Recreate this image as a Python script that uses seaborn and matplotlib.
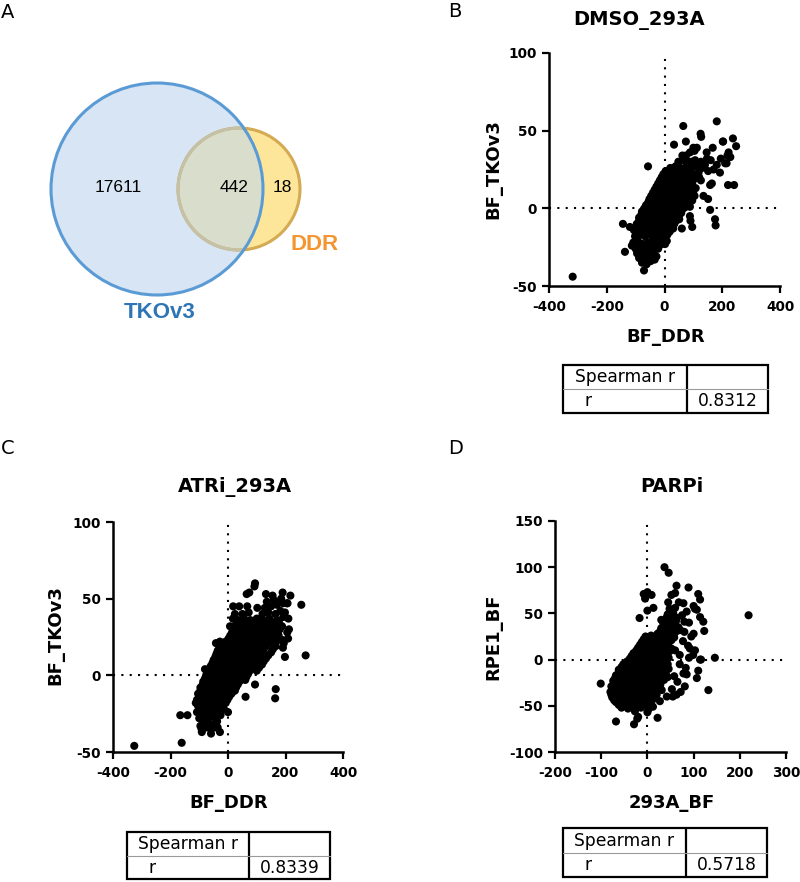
import numpy as np
import pandas as pd
import matplotlib
matplotlib.use("Agg")
import matplotlib.pyplot as plt
from matplotlib.patches import Circle, Rectangle
import seaborn as sns

# ---- Venn counts (panel A)
venn_sets = ['TKOv3', 'DDR']
venn_counts = [17611, 442, 18]   # TKOv3 only, shared, DDR only

# ---- Spearman r per panel
spearman_r = {'B': 0.8312, 'C': 0.8339, 'D': 0.5718}

# ---- panel B: DMSO_293A  (BF_DDR, BF_TKOv3)
dmso_pts = [
    (-318, -44), (-71, -40), (-57, 27), (65, 53), (181, 56), (125, 48), (127, 46), (237, 45),
    (203, 43), (248, 40), (33, 41), (74, 43), (104, 37), (112, 39), (167, 39), (146, 36),
    (222, 36), (228, 33), (218, 34), (74, 34), (88, 36), (62, 34), (215, 29), (181, 28),
    (192, 23), (151, 24), (220, 15), (241, 15), (158, 15), (151, 6), (158, -1), (175, -7),
    (177, -11), (96, -12), (88, -5), (90, -8), (51, -7), (-144, -10), (-120, -12), (-137, -28),
    (-113, -24), (-61, -33), (8, -21), (2, -23), (-38, 9), (-9, 17), (72, 33), (100, 39),
    (147, 32), (164, 16), (118, 23), (77, 25), (135, 8), (100, 12), (54, 5), (31, -3),
    (210, 29), (202, 43), (120, 20), (140, 28), (170, 25), (195, 32), (95, 30), (60, -13),
    (-78, -35), (-62, -36), (-48, -34), (-66, -31),
    (-95, -29), (-82, -30), (-70, -28), (-55, -30), (-40, -29), (-28, -31),
    (-100, -26), (-86, -25), (-62, -26), (-48, -25), (-22, -26), (-35, -27),
    (-108, -22), (-92, -21), (-75, -23), (-58, -22), (-42, -21), (-26, -22), (-10, -23), (-16, -19),
    (-102, -18), (-85, -17), (-68, -18), (-52, -17), (-36, -18), (-20, -17), (-4, -18), (10, -17),
    (-106, -14), (-90, -13), (-72, -14), (-56, -14), (-40, -13), (-24, -14), (-8, -13), (8, -14), (24, -12),
    (-96, -10), (-80, -9), (-64, -10), (-48, -10), (-32, -9), (-16, -10), (0, -10), (16, -9), (34, -10),
    (-88, -6), (-70, -6), (-54, -5), (-38, -6), (-22, -5), (-6, -6), (10, -5), (26, -6), (42, -4),
    (-78, -2), (-62, -1), (-46, -2), (-30, -1), (-14, -2), (2, -1), (18, -2), (34, -1), (50, -2), (66, 0),
    (-64, 2), (-48, 3), (-32, 2), (-16, 3), (0, 2), (16, 3), (32, 2), (48, 3), (64, 2), (80, 3),
    (-52, 6), (-36, 7), (-20, 6), (-4, 7), (12, 6), (28, 7), (44, 6), (60, 7), (78, 6), (96, 5),
    (-40, 10), (-24, 11), (-8, 10), (8, 11), (24, 10), (40, 11), (56, 10), (74, 11), (92, 10),
    (-28, 14), (-12, 15), (4, 14), (20, 15), (36, 14), (52, 15), (70, 14), (88, 15), (108, 13),
    (-16, 18), (0, 19), (16, 18), (32, 19), (48, 18), (66, 19), (84, 18), (104, 19), (126, 18),
    (-4, 22), (14, 23), (30, 22), (46, 23), (64, 22), (82, 23), (100, 22),
    (20, 26), (38, 27), (56, 26), (76, 27), (94, 26), (112, 27), (130, 26),
    (48, 30), (66, 31), (86, 30), (106, 31), (126, 30), (160, 31),
    (-88, -32), (-74, -33), (-58, -33), (-44, -32), (-34, -33),
    (-100, -24), (-84, -23), (-67, -24), (-50, -24), (-34, -24), (-18, -24), (-2, -21),
    (-96, -16), (-78, -15), (-62, -16), (-46, -15), (-30, -16), (-14, -16), (2, -15), (18, -15),
    (-98, -12), (-82, -11), (-64, -12), (-48, -12), (-32, -11), (-16, -12), (0, -12), (16, -12), (30, -13),
    (-88, -8), (-72, -8), (-56, -8), (-40, -8), (-24, -7), (-8, -8), (8, -7), (24, -8), (40, -8),
    (-80, -4), (-62, -4), (-46, -4), (-30, -3), (-14, -4), (2, -4), (18, -3), (34, -4), (50, -5), (58, -3),
    (-70, 0), (-54, 1), (-38, 0), (-22, 1), (-6, 0), (10, 1), (26, 0), (42, 1), (58, 1), (74, 1), (88, 1),
    (-56, 4), (-40, 5), (-24, 4), (-8, 5), (8, 4), (24, 5), (40, 4), (56, 5), (72, 4), (88, 4),
    (-46, 8), (-30, 9), (-14, 8), (2, 9), (18, 8), (34, 9), (50, 8), (68, 9), (86, 8), (104, 8),
    (-34, 12), (-18, 13), (-2, 12), (14, 13), (30, 12), (46, 13), (62, 12), (80, 12), (100, 11),
    (-22, 16), (-6, 17), (10, 16), (26, 17), (42, 16), (58, 17), (76, 16), (96, 16),
    (-10, 20), (6, 21), (22, 20), (38, 21), (56, 20), (74, 21), (92, 20),
    (4, 24), (22, 25), (40, 24), (58, 25), (76, 24),
]

# ---- panel C: ATRi_293A  (BF_DDR, BF_TKOv3)
atri_pts = [
    (-326, -46), (-161, -44), (-166, -26), (-141, -26), (255, 46), (270, 13), (166, -9), (164, -15),
    (61, -14), (94, -6), (-28, -37), (-59, -38), (-91, -37), (94, 60), (92, 58), (65, 53),
    (74, 54), (132, 53), (155, 52), (190, 54), (217, 52), (18, 45), (39, 45), (67, 45),
    (102, 44), (207, 47), (198, 41), (210, 37), (190, 23), (194, 21), (198, 12), (206, 28),
    (24, 40), (0, -24), (-80, 4), (-42, 21), (-28, 22), (7, 32), (17, 37), (191, 47), (205, 47),
    (212, 30), (209, 24), (191, 18),
    (-92, -35), (-76, -34), (-60, -35), (-44, -34), (-84, -31), (-68, -31), (-52, -32), (-38, -30),
    (-100, -28), (-86, -27), (-70, -28), (-54, -27), (-40, -28), (-26, -26),
    (-108, -24), (-92, -23), (-76, -24), (-60, -23), (-44, -24), (-28, -23), (-14, -22),
    (-104, -20), (-88, -19), (-72, -20), (-56, -19), (-40, -20), (-24, -19), (-8, -18),
    (-108, -16), (-92, -15), (-76, -16), (-60, -15), (-44, -16), (-28, -15), (-12, -15), (4, -14),
    (-104, -12), (-88, -11), (-72, -12), (-56, -11), (-40, -12), (-24, -11), (-8, -12), (8, -11), (24, -10),
    (-96, -8), (-80, -7), (-64, -8), (-48, -7), (-32, -8), (-16, -7), (0, -8), (16, -7), (34, -6),
    (-86, -4), (-70, -3), (-54, -4), (-38, -3), (-22, -4), (-6, -3), (10, -4), (26, -3), (44, -2), (60, -3),
    (-76, 0), (-60, 1), (-44, 0), (-28, 1), (-12, 0), (4, 1), (20, 0), (36, 1), (52, 0), (70, 1),
    (-66, 4), (-50, 5), (-34, 4), (-18, 5), (-2, 4), (14, 5), (30, 4), (46, 5), (62, 4), (80, 5), (100, 3),
    (-54, 8), (-38, 9), (-22, 8), (-6, 9), (10, 8), (26, 9), (42, 8), (58, 9), (76, 8), (96, 9), (118, 7),
    (-44, 12), (-28, 13), (-12, 12), (4, 13), (20, 12), (36, 13), (52, 12), (70, 13), (90, 12), (112, 13), (132, 11),
    (-36, 16), (-20, 17), (-4, 16), (12, 17), (28, 16), (44, 17), (62, 16), (80, 17), (100, 16), (124, 17), (150, 15),
    (-26, 20), (-10, 21), (6, 20), (22, 21), (40, 20), (58, 21), (76, 20), (96, 21), (118, 20), (142, 21), (166, 19),
    (2, 24), (18, 25), (36, 24), (54, 25), (72, 24), (92, 25), (112, 24), (134, 25), (156, 24), (176, 26),
    (14, 28), (30, 29), (48, 28), (66, 29), (86, 28), (106, 29), (128, 28), (150, 29), (172, 28),
    (24, 32), (42, 33), (62, 32), (82, 33), (102, 32), (124, 33), (146, 32), (168, 33), (188, 32),
    (36, 36), (56, 37), (78, 36), (100, 37), (122, 36), (144, 37), (170, 36), (192, 38),
    (50, 40), (72, 41), (120, 40), (140, 41), (165, 40), (182, 42),
    (128, 44), (150, 45), (170, 46), (135, 48), (160, 49), (185, 50),
    (-96, -33), (-80, -33), (-64, -33), (-48, -33), (-36, -34),
    (-94, -26), (-78, -26), (-62, -25), (-46, -26), (-32, -25),
    (-100, -22), (-84, -21), (-68, -22), (-52, -21), (-36, -22), (-20, -21),
    (-112, -18), (-96, -17), (-80, -18), (-64, -17), (-48, -18), (-32, -17), (-16, -17), (-2, -16),
    (-100, -14), (-84, -13), (-68, -14), (-52, -13), (-36, -14), (-20, -13), (-4, -13), (12, -12),
    (-96, -10), (-80, -9), (-64, -10), (-48, -9), (-32, -10), (-16, -9), (0, -10), (16, -9), (28, -8),
    (-88, -6), (-72, -5), (-56, -6), (-40, -5), (-24, -6), (-8, -5), (8, -6), (24, -5), (40, -4),
    (-80, -2), (-64, -1), (-48, -2), (-32, -1), (-16, -2), (0, -1), (16, -2), (32, -1), (48, -1), (64, -1),
    (-70, 2), (-54, 3), (-38, 2), (-22, 3), (-6, 2), (10, 3), (26, 2), (42, 3), (58, 2), (76, 3),
    (-60, 6), (-44, 7), (-28, 6), (-12, 7), (4, 6), (20, 7), (36, 6), (52, 7), (70, 6), (88, 7), (108, 5),
    (-50, 10), (-34, 11), (-18, 10), (-2, 11), (14, 10), (30, 11), (46, 10), (64, 11), (84, 10), (104, 11), (124, 9),
    (-40, 14), (-24, 15), (-8, 14), (8, 15), (24, 14), (40, 15), (56, 14), (74, 15), (94, 14), (116, 15), (140, 13),
    (-30, 18), (-14, 19), (2, 18), (18, 19), (34, 18), (52, 19), (70, 18), (88, 19), (108, 18), (132, 19), (156, 17),
    (-8, 22), (10, 23), (28, 22), (46, 23), (64, 22), (84, 23), (104, 22), (124, 23), (146, 22), (168, 22),
    (8, 26), (24, 27), (42, 26), (60, 27), (78, 26), (98, 27), (120, 26), (142, 27), (164, 26),
    (20, 30), (38, 31), (56, 30), (76, 31), (96, 30), (116, 31), (138, 30), (160, 31), (180, 30),
    (30, 34), (50, 35), (70, 34), (90, 35), (112, 34), (134, 35), (156, 34), (178, 34),
]

# ---- panel D: PARPi  (293A_BF, RPE1_BF)
parpi_pts = [
    (-101, -26), (-68, -67), (-29, -70), (-22, -64), (22, -63), (0, -57), (2, -54), (219, 48),
    (146, 2), (132, -33), (110, -12), (37, 100), (46, 94), (-5, 66), (-8, 71), (0, 73),
    (9, 70), (-17, 45), (0, 53), (13, 56), (63, 80), (89, 78), (110, 71), (114, 65),
    (78, 61), (85, 52), (100, 58), (114, 46), (121, 41), (123, 31), (100, 28), (80, 41),
    (71, 32), (92, 12), (103, 10), (114, 0), (116, 0), (83, -9), (78, -15), (81, -29),
    (63, -38), (53, -32), (27, -45), (12, -51), (60, 72), (45, 62), (103, 55), (107, 54),
    (30, 43), (38, 35), (67, 35), (77, 20), (35, 29), (107, -20), (85, -16), (99, 5),
    (90, 2), (65, -24), (31, -33), (42, -40), (-52, -49), (-27, -56), (6, -47), (-20, -62),
    (70, -5), (60, 10), (88, 15), (95, 25), (72, -35), (55, -40), (58, -18), (70, 5),
    (80, 30), (90, 40), (58, 45), (75, 48), (68, 62), (52, 70),
    (-56, -52), (-42, -53), (-30, -51), (-14, -52),
    (-68, -46), (-56, -47), (-44, -46), (-32, -48), (-20, -46), (-8, -47), (6, -45),
    (-76, -41), (-64, -40), (-52, -42), (-40, -40), (-28, -41), (-16, -40), (-4, -41), (10, -40),
    (-80, -35), (-68, -34), (-56, -36), (-44, -34), (-32, -35), (-20, -34), (-8, -35), (4, -34), (16, -36),
    (-78, -29), (-66, -28), (-54, -30), (-42, -28), (-30, -29), (-18, -28), (-6, -29), (6, -28), (20, -30),
    (-74, -23), (-62, -22), (-50, -24), (-38, -22), (-26, -23), (-14, -22), (-2, -23), (10, -22), (24, -24), (36, -22),
    (-68, -17), (-56, -16), (-44, -18), (-32, -16), (-20, -17), (-8, -16), (4, -17), (16, -16), (28, -18), (40, -16),
    (-62, -11), (-50, -10), (-38, -12), (-26, -10), (-14, -11), (-2, -10), (10, -11), (22, -10), (34, -12), (46, -10),
    (-52, -5), (-40, -4), (-28, -6), (-16, -4), (-4, -5), (8, -4), (20, -6), (32, -4), (44, -5),
    (-38, 1), (-26, 2), (-14, 0), (-2, 2), (10, 1), (22, 2), (34, 0), (46, 2),
    (-30, 7), (-18, 8), (-6, 6), (6, 8), (18, 7), (30, 8), (42, 6),
    (-20, 13), (-8, 14), (4, 12), (16, 14), (28, 13), (40, 14), (52, 12),
    (-12, 19), (0, 20), (12, 18), (24, 20), (36, 19), (48, 20),
    (-4, 25), (8, 26), (20, 24), (34, 26), (46, 25), (58, 24),
    (28, 31), (40, 32), (52, 30), (64, 31),
    (36, 37), (48, 38), (60, 36), (40, 43), (52, 44), (62, 42),
    (44, 49), (56, 50), (48, 55), (60, 56),
    (-62, -49), (-50, -50), (-38, -49), (-26, -50), (-14, -49), (-2, -49),
    (-72, -44), (-60, -43), (-48, -44), (-36, -43), (-24, -44), (-12, -43), (0, -44), (12, -43),
    (-78, -38), (-66, -37), (-54, -38), (-42, -37), (-30, -38), (-18, -37), (-6, -38), (8, -37), (20, -38),
    (-74, -32), (-62, -31), (-50, -32), (-38, -31), (-26, -32), (-14, -31), (-2, -32), (10, -31), (24, -32),
    (-72, -26), (-60, -25), (-48, -26), (-36, -25), (-24, -26), (-12, -25), (0, -26), (14, -25), (28, -27),
    (-70, -20), (-58, -19), (-46, -20), (-34, -19), (-22, -20), (-10, -19), (2, -20), (16, -19), (30, -21), (44, -19),
    (-62, -14), (-50, -13), (-38, -14), (-26, -13), (-14, -14), (-2, -13), (10, -14), (22, -13), (36, -14),
    (-56, -8), (-44, -7), (-32, -8), (-20, -7), (-8, -8), (4, -7), (16, -8), (28, -7), (40, -8),
    (-44, -2), (-32, -1), (-20, -2), (-8, -1), (4, -2), (16, -1), (28, -2), (40, -1),
    (-34, 4), (-22, 5), (-10, 3), (2, 5), (14, 4), (26, 5), (38, 3),
    (-24, 10), (-12, 11), (0, 9), (12, 11), (24, 10), (36, 11), (48, 9),
    (-16, 16), (-4, 17), (8, 15), (20, 17), (32, 16), (44, 17),
    (-8, 22), (4, 23), (16, 21), (28, 23), (40, 22), (52, 21),
    (22, 28), (34, 29), (46, 27), (58, 28), (30, 34), (42, 35), (54, 33), (66, 34),
    (34, 40), (46, 41), (58, 39), (42, 46), (54, 47), (64, 45),
]

sns.set_theme(style="ticks")
plt.rcParams['font.family'] = ['DejaVu Sans']
plt.rcParams['axes.unicode_minus'] = False
for k in ('text.color', 'axes.labelcolor', 'xtick.color', 'ytick.color', 'axes.edgecolor'):
    plt.rcParams[k] = 'black'

W, H = 800, 882
fig = plt.figure(figsize=(8, 8.82), dpi=100)


def px(x0, y0, x1, y1):
    # pixel box -> figure fraction rect
    return [x0 / W, 1 - y1 / H, (x1 - x0) / W, (y1 - y0) / H]


# ---------------- panel A: Venn
ax_v = fig.add_axes([0, 0.5, 0.5, 0.5])
ax_v.set_xlim(0, 400)
ax_v.set_ylim(441, 0)
ax_v.axis('off')
big = Circle((157, 189), 106, fc='#d7e5f4', ec='none')
ax_v.add_patch(big)
ax_v.add_patch(Circle((239, 189), 61, fc='#fde699', ec='none'))
ov = Circle((239, 189), 61, fc='#d8ddcc', ec='none')
ax_v.add_patch(ov)
ov.set_clip_path(big)
ax_v.add_patch(Circle((239, 189), 61, fill=False, ec='#d4aa52', lw=2.2))
inner = Circle((239, 189), 61, fill=False, ec='#c4c1a9', lw=2.2)
ax_v.add_patch(inner)
inner.set_clip_path(big)
ax_v.add_patch(Circle((157, 189), 106, fill=False, ec='#5b9bd5', lw=2.2))
vf = ['Liberation Sans', 'DejaVu Sans']
for (x, y), n in zip([(118, 187), (234, 187), (282, 187)], venn_counts):
    ax_v.text(x, y, str(n), ha='center', va='center', fontsize=12.5, family=vf)
ax_v.text(160, 312, venn_sets[0], ha='center', va='center', fontsize=16,
          fontweight='bold', color='#2e75b6', family=vf)
ax_v.text(315, 245, venn_sets[1], ha='center', va='center', fontsize=16,
          fontweight='bold', color='#f39530', family=vf)


# ---------------- scatter panels
def scatter_panel(rect, pts, xcol, ycol, xlim, ylim, xt, yt, title, tx, ty, xl, yl):
    ax = fig.add_axes(rect)
    df = pd.DataFrame(pts, columns=[xcol, ycol])
    ax.axhline(0, color='black', lw=1.5, ls=(0, (1, 3)), zorder=1)
    ax.axvline(0, color='black', lw=1.5, ls=(0, (1, 3)), zorder=1)
    sns.scatterplot(data=df, x=xcol, y=ycol, ax=ax, color='black', s=34,
                    linewidth=0, edgecolor='none', zorder=3, clip_on=False)
    ax.set_xlim(*xlim)
    ax.set_ylim(*ylim)
    ax.set_xticks(xt)
    ax.set_yticks(yt)
    sns.despine(ax=ax)
    for s in ('left', 'bottom'):
        ax.spines[s].set_linewidth(1.8)
        ax.spines[s].set_color('black')
    ax.tick_params(axis='both', width=1.6, length=5, labelsize=9.8, color='black')
    ax.tick_params(axis='x', pad=5)
    ax.tick_params(axis='y', pad=3.5)
    for t in ax.get_xticklabels() + ax.get_yticklabels():
        t.set_fontweight('bold')
    ax.set_title(title, x=tx, y=ty, pad=0, fontsize=14, fontweight='bold', va='baseline')
    ax.set_xlabel(xcol, fontsize=13, fontweight='bold', va='baseline')
    ax.set_ylabel(ycol, fontsize=13, fontweight='bold', va='center')
    ax.xaxis.set_label_coords(*xl)
    ax.yaxis.set_label_coords(*yl)
    return ax


def spearman_table(rect, split, r):
    ax = fig.add_axes(rect)
    ax.set_xlim(0, 1)
    ax.set_ylim(0, 1)
    ax.axis('off')
    ax.add_patch(Rectangle((0, 0), 1, 1, fill=False, ec='black', lw=1.6, clip_on=False))
    ax.plot([split, split], [0, 1], color='black', lw=1.6, clip_on=False)
    ax.plot([0, 1], [0.5, 0.5], color='#9a9a9a', lw=0.8, clip_on=False)
    ax.text(split / 2, 0.74, 'Spearman r', ha='center', va='center', fontsize=12.3)
    ax.text(0.122, 0.24, 'r', ha='center', va='center', fontsize=12.3)
    ax.text((split + 1) / 2, 0.24, f'{r:.4f}', ha='center', va='center', fontsize=12.3)


def label(x, y, s):
    fig.text(x / W, 1 - y / H, s, ha='left', va='baseline', fontsize=14)


label(1, 18, 'A')
label(448, 17, 'B')
label(1, 454, 'C')
label(448, 454, 'D')

scatter_panel(px(549, 53, 780, 286), dmso_pts, 'BF_DDR', 'BF_TKOv3', (-400, 400), (-50, 100),
              [-400, -200, 0, 200, 400], [-50, 0, 50, 100], 'DMSO_293A', 0.39, 1.12,
              (0.5065, -0.239), (-0.242, 0.5))
spearman_table(px(563, 365, 768, 413), 0.605, spearman_r['B'])

scatter_panel(px(113, 522, 343, 752), atri_pts, 'BF_DDR', 'BF_TKOv3', (-400, 400), (-50, 100),
              [-400, -200, 0, 200, 400], [-50, 0, 50, 100], 'ATRi_293A', 0.53, 1.132,
              (0.504, -0.245), (-0.249, 0.509))
spearman_table(px(127, 832, 330, 879), 0.601, spearman_r['C'])

scatter_panel(px(555, 521, 786, 752), parpi_pts, '293A_BF', 'RPE1_BF', (-200, 300), (-100, 150),
              [-200, -100, 0, 100, 200, 300], [-100, -50, 0, 50, 100, 150], 'PARPi', 0.506, 1.127,
              (0.5065, -0.244), (-0.268, 0.498))
spearman_table(px(563, 828, 767, 877), 0.603, spearman_r['D'])

fig.savefig('out.png', dpi=100)
